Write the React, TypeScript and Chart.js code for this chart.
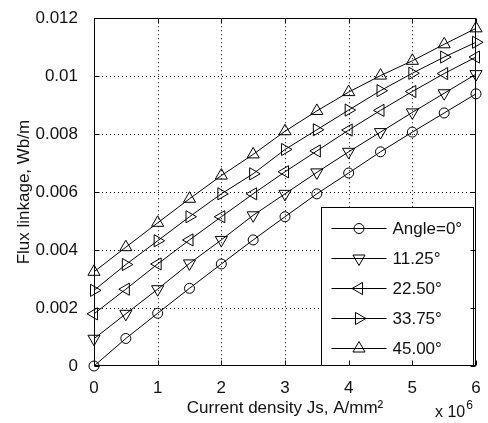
import React, { useEffect, useRef } from 'react';
import { Chart, registerables } from 'chart.js';

Chart.register(...registerables);

// ---- data ----
const CURRENT_DENSITY = [0, 0.5, 1, 1.5, 2, 2.5, 3, 3.5, 4, 4.5, 5, 5.5, 6];
const ANGLE_0 = [0, 0.00095, 0.00182, 0.00268, 0.00352, 0.00435, 0.00515, 0.00594, 0.00666, 0.00739, 0.00807, 0.00873, 0.00939];
const ANGLE_11_25 = [0.00094, 0.0018, 0.00265, 0.00354, 0.00435, 0.0052, 0.00594, 0.00668, 0.00739, 0.00807, 0.00875, 0.00941, 0.01007];
const ANGLE_22_50 = [0.0018, 0.00265, 0.00352, 0.00435, 0.00515, 0.00594, 0.0067, 0.00742, 0.00814, 0.00882, 0.00947, 0.01009, 0.01066];
const ANGLE_33_75 = [0.00261, 0.0035, 0.00432, 0.00515, 0.00594, 0.00663, 0.00747, 0.00815, 0.00883, 0.0095, 0.0101, 0.01066, 0.01117];
const ANGLE_45_00 = [0.00325, 0.0041, 0.00494, 0.00577, 0.00657, 0.0073, 0.0081, 0.0088, 0.00945, 0.01002, 0.01053, 0.0111, 0.01165];

const SERIES_LABELS = ['Angle=0°', '11.25°', '22.50°', '33.75°', '45.00°'];
const SERIES_VALUES = [ANGLE_0, ANGLE_11_25, ANGLE_22_50, ANGLE_33_75, ANGLE_45_00];
const SERIES_MARKERS = ['circle', 'triangle', 'triangle', 'triangle', 'triangle'];
const SERIES_ROTATIONS = [0, 180, 270, 90, 0];

const X_TICK_LABELS = ['0', '1', '2', '3', '4', '5', '6'];
const Y_TICK_LABELS = ['0', '0.002', '0.004', '0.006', '0.008', '0.01', '0.012'];
const X_TITLE = 'Current density Js, A/mm²';
const Y_TITLE = 'Flux linkage, Wb/m';
const X_MULTIPLIER = 'x 10';
const X_EXPONENT = '6';

const FONT_FAMILY = "'Liberation Sans', Arial, Helvetica, sans-serif";
const TEXT_COLOR = '#111';

function markerRadius(style: string) {
  return style === 'circle' ? 5 : 7;
}

function drawMarker(ctx: CanvasRenderingContext2D, style: string, rotation: number, x: number, y: number, r: number) {
  ctx.beginPath();
  if (style === 'circle') {
    ctx.arc(x, y, r, 0, Math.PI * 2);
  } else {
    let rad = (rotation * Math.PI) / 180;
    ctx.moveTo(x + Math.sin(rad) * r, y - Math.cos(rad) * r);
    rad += (2 * Math.PI) / 3;
    ctx.lineTo(x + Math.sin(rad) * r, y - Math.cos(rad) * r);
    rad += (2 * Math.PI) / 3;
    ctx.lineTo(x + Math.sin(rad) * r, y - Math.cos(rad) * r);
    ctx.closePath();
  }
  ctx.stroke();
}

const framePlugin = {
  id: 'matlabFrame',
  beforeDatasetsDraw(chart: any) {
    const { ctx, chartArea: a, scales } = chart;
    const xs = scales.x;
    const ys = scales.y;
    ctx.save();
    ctx.strokeStyle = '#000';
    ctx.lineWidth = 1;
    ctx.setLineDash([1, 3]);
    const xt = xs.ticks.map((t: any) => t.value);
    const yt = ys.ticks.map((t: any) => t.value);
    xt.slice(1, -1).forEach((v: number) => {
      const px = Math.round(xs.getPixelForValue(v)) + 0.5;
      ctx.beginPath();
      ctx.moveTo(px, a.top);
      ctx.lineTo(px, a.bottom);
      ctx.stroke();
    });
    yt.slice(1, -1).forEach((v: number) => {
      const py = Math.round(ys.getPixelForValue(v)) + 0.5;
      ctx.beginPath();
      ctx.moveTo(a.left, py);
      ctx.lineTo(a.right, py);
      ctx.stroke();
    });
    ctx.setLineDash([]);
    ctx.restore();
  },
  afterDatasetsDraw(chart: any) {
    const { ctx, chartArea: a, scales } = chart;
    const xs = scales.x;
    const ys = scales.y;
    const L = Math.round(a.left) + 0.5;
    const R = Math.round(a.right) - 0.5;
    const T = Math.round(a.top) + 0.5;
    const B = Math.round(a.bottom) - 0.5;
    ctx.save();
    ctx.strokeStyle = '#000';
    ctx.lineWidth = 1;

    // legend box
    const lx = Math.round(a.right - 155) + 0.5;
    const ly = Math.round(a.top + 189) + 0.5;
    const lw = 152;
    const lh = Math.round(B - ly);
    ctx.fillStyle = '#fff';
    ctx.fillRect(lx, ly, lw, lh);
    ctx.strokeRect(lx, ly, lw, lh);

    ctx.font = `17px ${FONT_FAMILY}`;
    ctx.textBaseline = 'middle';
    ctx.textAlign = 'left';
    SERIES_LABELS.forEach((label, i) => {
      const cy = Math.round(ly + 20 + i * 30.2) + 0.5;
      ctx.beginPath();
      ctx.moveTo(lx + 10, cy);
      ctx.lineTo(lx + 65, cy);
      ctx.stroke();
      drawMarker(ctx, SERIES_MARKERS[i], SERIES_ROTATIONS[i], lx + 37.5, cy, markerRadius(SERIES_MARKERS[i]));
      ctx.fillStyle = TEXT_COLOR;
      ctx.fillText(label, lx + 71, cy + 1);
    });

    // axes box
    ctx.strokeRect(L, T, R - L, B - T);

    // inward tick marks on all four sides
    const tl = 5;
    xs.ticks.forEach((t: any) => {
      const px = Math.round(xs.getPixelForValue(t.value)) + 0.5;
      ctx.beginPath();
      ctx.moveTo(px, B);
      ctx.lineTo(px, B - tl);
      ctx.moveTo(px, T);
      ctx.lineTo(px, T + tl);
      ctx.stroke();
    });
    ys.ticks.forEach((t: any) => {
      const py = Math.round(ys.getPixelForValue(t.value)) + 0.5;
      ctx.beginPath();
      ctx.moveTo(L, py);
      ctx.lineTo(L + tl, py);
      ctx.moveTo(R, py);
      ctx.lineTo(R - tl, py);
      ctx.stroke();
    });

    // x 10^6 multiplier
    ctx.fillStyle = TEXT_COLOR;
    ctx.textBaseline = 'alphabetic';
    ctx.font = `16px ${FONT_FAMILY}`;
    const mx = a.right - 41;
    const my = a.bottom + 51;
    ctx.fillText(X_MULTIPLIER, mx, my);
    const w = ctx.measureText(X_MULTIPLIER).width;
    ctx.font = `12px ${FONT_FAMILY}`;
    ctx.fillText(X_EXPONENT, mx + w + 1, my - 8);
    ctx.restore();
  },
};

export default function App() {
  const canvasRef = useRef<HTMLCanvasElement | null>(null);

  useEffect(() => {
    const canvas = canvasRef.current;
    if (!canvas) return;
    const datasets = SERIES_LABELS.map((label, i) => ({
      label,
      data: CURRENT_DENSITY.map((x, j) => ({ x, y: SERIES_VALUES[i][j] })),
      borderColor: '#000',
      borderWidth: 1,
      backgroundColor: 'rgba(0,0,0,0)',
      pointStyle: SERIES_MARKERS[i] as any,
      rotation: SERIES_ROTATIONS[i],
      pointRadius: markerRadius(SERIES_MARKERS[i]),
      pointBorderColor: '#000',
      pointBorderWidth: 1,
      pointBackgroundColor: 'rgba(0,0,0,0)',
      tension: 0,
      fill: false,
      clip: false as any,
    }));

    const chart = new Chart(canvas, {
      type: 'line',
      data: { datasets },
      plugins: [framePlugin],
      options: {
        responsive: false,
        maintainAspectRatio: false,
        animation: false,
        devicePixelRatio: 1,
        layout: { padding: { left: 0, top: 14, right: 12, bottom: 0 } },
        plugins: {
          legend: { display: false },
          tooltip: { enabled: false },
        },
        scales: {
          x: {
            type: 'linear',
            min: 0,
            max: 6,
            grid: { display: false },
            border: { display: false },
            ticks: {
              stepSize: 1,
              padding: 4,
              color: TEXT_COLOR,
              font: { family: FONT_FAMILY, size: 17 },
              callback: (_v: any, i: number) => X_TICK_LABELS[i],
              maxRotation: 0,
            },
            title: {
              display: true,
              text: X_TITLE,
              color: TEXT_COLOR,
              font: { family: FONT_FAMILY, size: 17 },
              padding: { top: 0, bottom: 4 },
            },
            afterFit: (scale: any) => {
              scale.height = 57;
            },
          },
          y: {
            type: 'linear',
            min: 0,
            max: 0.012,
            grid: { display: false },
            border: { display: false },
            ticks: {
              stepSize: 0.002,
              padding: 8,
              color: TEXT_COLOR,
              font: { family: FONT_FAMILY, size: 17 },
              callback: (_v: any, i: number) => Y_TICK_LABELS[i],
            },
            title: {
              display: true,
              text: Y_TITLE,
              color: TEXT_COLOR,
              font: { family: FONT_FAMILY, size: 17 },
              padding: { top: 14, bottom: 0 },
            },
            afterFit: (scale: any) => {
              scale.width = 94;
            },
          },
        },
      } as any,
    });
    return () => chart.destroy();
  }, []);

  return (
    <div style={{ position: 'absolute', left: 0, top: 0, width: 488, height: 423, background: '#fff' }}>
      <canvas ref={canvasRef} width={488} height={423} style={{ display: 'block', width: 488, height: 423 }} />
    </div>
  );
}
